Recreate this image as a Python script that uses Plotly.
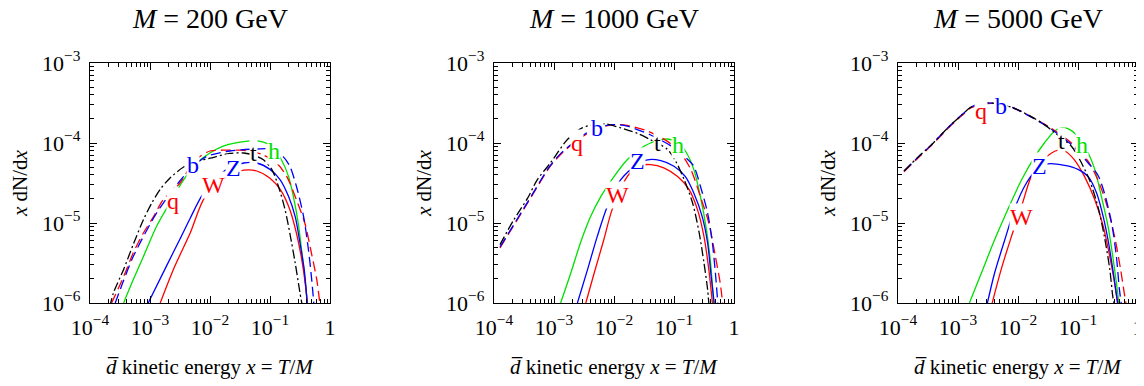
import plotly.graph_objects as go

PAGE_OFFSET = 8  # default page margin of the html body
W_FIG, H_FIG = 1144 - PAGE_OFFSET, 386 - PAGE_OFFSET
FONT = "Liberation Serif, Times New Roman, serif"

MASSES = ["200", "1000", "5000"]
SERIES = ["q", "b", "t", "h", "Z", "W"]
COLORS = {"q": "#ff0000", "b": "#0000ff", "t": "#000000",
          "W": "#ff0000", "Z": "#0000ff", "h": "#00e000"}
DASHES = {"q": "10px,5px", "b": "10px,5px", "t": "9px,3px,2px,3px",
          "W": "solid", "Z": "solid", "h": "solid"}

# ---- values (log10 x, log10 of x dN/dx) ----
# M = 200 GeV
M200_T_LOGX = [-3.67, -3.61, -3.44, -3.28, -3.11, -2.97, -2.83, -2.67, -2.44, -2.22, -2.0, -1.67, -1.44, -1.28, -1.11, -0.97, -0.86, -0.75, -0.67, -0.58, -0.5, -0.47]
M200_T_LOGY = [-6.05, -5.875, -5.58, -5.27, -4.96, -4.75, -4.58, -4.44, -4.30, -4.23, -4.19, -4.13, -4.125, -4.15, -4.21, -4.33, -4.54, -4.83, -5.125, -5.5, -5.875, -6.0]
M200_Q_LOGX = [-3.64, -3.44, -3.28, -3.11, -2.94, -2.78, -2.5, -2.33, -2.17, -2.0, -1.78, -1.5, -1.33, -1.11, -0.89, -0.72, -0.56, -0.42, -0.31, -0.22, -0.17]
M200_Q_LOGY = [-6.0, -5.67, -5.375, -5.125, -4.92, -4.71, -4.50, -4.30, -4.17, -4.10, -4.09, -4.09, -4.10, -4.15, -4.25, -4.42, -4.71, -5.0, -5.375, -5.71, -6.0]
M200_B_LOGX = [-3.58, -3.44, -3.28, -2.89, -2.53, -2.28, -2.06, -1.67, -1.22, -0.94, -0.78, -0.67, -0.56, -0.44, -0.36, -0.31, -0.27]
M200_B_LOGY = [-6.0, -5.72, -5.42, -4.875, -4.5, -4.29, -4.17, -4.10, -4.075, -4.08, -4.17, -4.29, -4.54, -4.92, -5.33, -5.67, -6.0]
M200_H_LOGX = [-3.44, -3.28, -3.11, -2.89, -2.67, -2.44, -2.22, -2.0, -1.78, -1.5, -1.28, -1.11, -0.97, -0.81, -0.69, -0.61, -0.53, -0.46, -0.40, -0.38]
M200_H_LOGY = [-6.0, -5.71, -5.42, -5.04, -4.75, -4.46, -4.25, -4.125, -4.04, -3.99, -3.97, -3.99, -4.04, -4.21, -4.42, -4.67, -5.0, -5.42, -5.83, -6.0]
M200_Z_LOGX = [-3.03, -2.72, -2.5, -2.33, -2.12, -1.89, -1.72, -1.44, -1.22, -1.0, -0.83, -0.69, -0.58, -0.5, -0.43, -0.38]
M200_Z_LOGY = [-6.0, -5.53, -5.2, -4.94, -4.64, -4.44, -4.33, -4.25, -4.25, -4.33, -4.46, -4.67, -4.92, -5.25, -5.58, -6.0]
M200_W_LOGX = [-2.83, -2.61, -2.33, -2.08, -1.67, -1.44, -1.22, -1.0, -0.83, -0.67, -0.56, -0.47, -0.40, -0.38]
M200_W_LOGY = [-6.0, -5.58, -5.125, -4.67, -4.40, -4.34, -4.35, -4.44, -4.58, -4.83, -5.125, -5.46, -5.83, -6.0]

# M = 1000 GeV
M1000_T_LOGX = [-3.9, -3.67, -3.44, -3.28, -3.06, -2.78, -2.53, -2.17, -1.89, -1.61, -1.39, -1.11, -0.97, -0.83, -0.69, -0.58, -0.5, -0.44, -0.42]
M1000_T_LOGY = [-5.27, -4.96, -4.69, -4.46, -4.25, -3.96, -3.81, -3.76, -3.81, -3.88, -3.96, -4.08, -4.23, -4.46, -4.75, -5.125, -5.5, -5.83, -6.0]
M1000_Q_LOGX = [-3.9, -3.44, -3.06, -2.83, -2.33, -2.0, -1.78, -1.44, -1.11, -0.89, -0.72, -0.56, -0.42, -0.31, -0.23, -0.19]
M1000_Q_LOGY = [-5.31, -4.75, -4.29, -4.10, -3.83, -3.77, -3.78, -3.85, -3.98, -4.125, -4.33, -4.67, -5.0, -5.42, -5.75, -6.0]
M1000_B_LOGX = [-3.9, -3.44, -3.06, -2.83, -2.33, -2.0, -1.78, -1.39, -1.0, -0.78, -0.67, -0.56, -0.44, -0.36, -0.31, -0.27]
M1000_B_LOGY = [-5.30, -4.74, -4.28, -4.09, -3.82, -3.77, -3.79, -3.90, -4.06, -4.2, -4.29, -4.54, -4.875, -5.25, -5.625, -6.0]
M1000_H_LOGX = [-2.89, -2.72, -2.56, -2.39, -2.22, -2.0, -1.78, -1.5, -1.28, -1.11, -0.94, -0.81, -0.67, -0.56, -0.46, -0.39, -0.34]
M1000_H_LOGY = [-6.0, -5.625, -5.25, -4.92, -4.67, -4.42, -4.21, -4.04, -3.97, -3.95, -3.99, -4.10, -4.33, -4.67, -5.08, -5.5, -6.0]
M1000_Z_LOGX = [-2.61, -2.44, -2.28, -2.11, -1.89, -1.61, -1.44, -1.22, -1.0, -0.81, -0.67, -0.53, -0.44, -0.38, -0.33]
M1000_Z_LOGY = [-6.0, -5.58, -5.17, -4.79, -4.46, -4.27, -4.21, -4.22, -4.29, -4.42, -4.625, -4.92, -5.25, -5.67, -6.0]
M1000_W_LOGX = [-2.47, -2.33, -2.17, -2.03, -1.78, -1.61, -1.39, -1.17, -0.94, -0.75, -0.61, -0.5, -0.42, -0.36]
M1000_W_LOGY = [-6.0, -5.625, -5.21, -4.83, -4.42, -4.29, -4.27, -4.31, -4.42, -4.58, -4.83, -5.17, -5.58, -6.0]

# M = 5000 GeV
M5000_T_LOGX = [-3.9, -3.67, -3.44, -3.17, -2.94, -2.78, -2.56, -2.33, -2.08, -1.78, -1.56, -1.39, -1.11, -0.97, -0.81, -0.67, -0.56, -0.47, -0.42, -0.40]
M5000_T_LOGY = [-4.35, -4.18, -4.02, -3.81, -3.65, -3.55, -3.50, -3.51, -3.56, -3.67, -3.77, -3.87, -4.04, -4.21, -4.46, -4.79, -5.17, -5.58, -5.92, -6.0]
M5000_Q_LOGX = [-3.9, -3.67, -3.44, -3.17, -2.94, -2.78, -2.56, -2.33, -2.08, -1.89, -1.5, -1.11, -0.83, -0.67, -0.53, -0.39, -0.29, -0.22, -0.19]
M5000_Q_LOGY = [-4.36, -4.19, -4.03, -3.82, -3.66, -3.56, -3.51, -3.51, -3.56, -3.63, -3.79, -4.0, -4.23, -4.46, -4.75, -5.17, -5.58, -5.92, -6.05]
M5000_B_LOGX = [-3.9, -3.67, -3.44, -3.17, -2.94, -2.78, -2.56, -2.33, -2.08, -1.89, -1.5, -1.11, -0.83, -0.67, -0.56, -0.44, -0.36, -0.31, -0.28]
M5000_B_LOGY = [-4.35, -4.18, -4.02, -3.81, -3.65, -3.55, -3.50, -3.51, -3.56, -3.63, -3.80, -4.02, -4.25, -4.40, -4.625, -5.0, -5.42, -5.83, -6.0]
M5000_H_LOGX = [-2.81, -2.61, -2.39, -2.17, -1.94, -1.72, -1.56, -1.39, -1.28, -1.17, -1.0, -0.83, -0.72, -0.61, -0.5, -0.42, -0.36, -0.32]
M5000_H_LOGY = [-6.0, -5.625, -5.21, -4.83, -4.46, -4.17, -4.0, -3.85, -3.81, -3.82, -3.92, -4.125, -4.33, -4.67, -5.04, -5.42, -5.75, -6.0]
M5000_Z_LOGX = [-2.51, -2.39, -2.22, -2.06, -1.89, -1.72, -1.5, -1.22, -1.0, -0.83, -0.69, -0.58, -0.49, -0.42, -0.34]
M5000_Z_LOGY = [-6.0, -5.625, -5.21, -4.83, -4.54, -4.36, -4.26, -4.28, -4.33, -4.42, -4.625, -4.92, -5.25, -5.58, -6.0]
M5000_W_LOGX = [-2.43, -2.28, -2.11, -1.94, -1.78, -1.61, -1.44, -1.33, -1.22, -1.06, -0.89, -0.72, -0.58, -0.47, -0.39, -0.34]
M5000_W_LOGY = [-6.0, -5.58, -5.17, -4.79, -4.42, -4.23, -4.125, -4.09, -4.10, -4.21, -4.42, -4.71, -5.04, -5.42, -5.75, -6.0]

# label positions (log10 x, log10 y)
LABELS_M200 = {"q": (-2.61, -4.73), "b": (-2.28, -4.27), "t": (-1.28, -4.13), "h": (-0.94, -4.10), "Z": (-1.61, -4.31), "W": (-1.94, -4.52)}
LABELS_M1000 = {"q": (-2.61, -4.0), "b": (-2.28, -3.81), "t": (-1.28, -4.0), "h": (-0.94, -4.02), "Z": (-1.61, -4.23), "W": (-1.94, -4.65)}
LABELS_M5000 = {"q": (-2.61, -3.60), "b": (-2.28, -3.54), "t": (-1.28, -3.98), "h": (-0.94, -4.02), "Z": (-1.64, -4.29), "W": (-1.94, -4.92)}

X_TICKS = [1e-4, 1e-3, 1e-2, 1e-1, 1]
X_TICK_TEXT = ["10<sup>\u22124</sup>", "10<sup>\u22123</sup>", "10<sup>\u22122</sup>", "10<sup>\u22121</sup>", "1"]
Y_TICKS = [1e-6, 1e-5, 1e-4, 1e-3]
Y_TICK_TEXT = ["10<sup>\u22126</sup>", "10<sup>\u22125</sup>", "10<sup>\u22124</sup>", "10<sup>\u22123</sup>"]
X_MINOR = [k * 10.0 ** e for e in (-4, -3, -2, -1) for k in range(2, 10)]
Y_MINOR = [k * 10.0 ** e for e in (-6, -5, -4) for k in range(2, 10)]

DATA = {
    "200": {"t": (M200_T_LOGX, M200_T_LOGY), "q": (M200_Q_LOGX, M200_Q_LOGY), "b": (M200_B_LOGX, M200_B_LOGY),
            "h": (M200_H_LOGX, M200_H_LOGY), "Z": (M200_Z_LOGX, M200_Z_LOGY), "W": (M200_W_LOGX, M200_W_LOGY)},
    "1000": {"t": (M1000_T_LOGX, M1000_T_LOGY), "q": (M1000_Q_LOGX, M1000_Q_LOGY), "b": (M1000_B_LOGX, M1000_B_LOGY),
             "h": (M1000_H_LOGX, M1000_H_LOGY), "Z": (M1000_Z_LOGX, M1000_Z_LOGY), "W": (M1000_W_LOGX, M1000_W_LOGY)},
    "5000": {"t": (M5000_T_LOGX, M5000_T_LOGY), "q": (M5000_Q_LOGX, M5000_Q_LOGY), "b": (M5000_B_LOGX, M5000_B_LOGY),
             "h": (M5000_H_LOGX, M5000_H_LOGY), "Z": (M5000_Z_LOGX, M5000_Z_LOGY), "W": (M5000_W_LOGX, M5000_W_LOGY)},
}
LABELS = {"200": LABELS_M200, "1000": LABELS_M1000, "5000": LABELS_M5000}

# positions in screenshot pixels
PANEL_LEFT_PX = [90, 494, 898]
PANEL_W_PX = 240
PANEL_TOP_PX, PANEL_BOTTOM_PX = 63, 303


def fx(px):
    return (px - PAGE_OFFSET) / W_FIG


def fy(py):
    return 1 - (py - PAGE_OFFSET) / H_FIG


fig = go.Figure()
annotations = []

for i, m in enumerate(MASSES):
    sfx = "" if i == 0 else str(i + 1)
    xa, ya = "x" + sfx, "y" + sfx
    for s in ["h", "W", "Z", "q", "b", "t"]:
        lx, ly = DATA[m][s]
        fig.add_trace(go.Scatter(
            x=[10 ** v for v in lx], y=[10 ** v for v in ly], mode="lines",
            line=dict(color=COLORS[s], width=1.3, dash=DASHES[s], shape="spline", smoothing=0.8),
            xaxis=xa, yaxis=ya, showlegend=False, hoverinfo="skip"))
    for s, (px, py) in LABELS[m].items():
        annotations.append(dict(
            x=px, y=py, xref=xa, yref=ya, text=s, showarrow=False,
            font=dict(family=FONT, size=24, color=COLORS[s]),
            bgcolor="white", borderpad=0, xanchor="center", yanchor="middle"))

    L = PANEL_LEFT_PX[i]
    xdom = [fx(L), fx(L + PANEL_W_PX)]
    ydom = [fy(PANEL_BOTTOM_PX), fy(PANEL_TOP_PX)]
    common = dict(type="log", showline=True, linecolor="black", linewidth=1.2, mirror="allticks",
                  ticks="inside", ticklen=7, tickwidth=1, tickcolor="black",
                  showgrid=False, zeroline=False, automargin=False,
                  tickfont=dict(family=FONT, size=22, color="black"))
    fig.update_layout(**{
        "xaxis" + sfx: dict(common, domain=xdom, range=[-4, 0], tickmode="array",
                            tickvals=X_TICKS, ticktext=X_TICK_TEXT,
                            minor=dict(tickmode="array", tickvals=X_MINOR, ticks="inside", ticklen=4,
                                       tickwidth=1, tickcolor="black", showgrid=False),
                            anchor=ya, ticklabelstandoff=4),
        "yaxis" + sfx: dict(common, domain=ydom, range=[-6, -3], tickmode="array",
                            tickvals=Y_TICKS, ticktext=Y_TICK_TEXT,
                            minor=dict(tickmode="array", tickvals=Y_MINOR, ticks="inside", ticklen=4,
                                       tickwidth=1, tickcolor="black", showgrid=False),
                            anchor=xa, ticklabelstandoff=4),
    })
    cx = fx(L + PANEL_W_PX / 2)
    annotations.append(dict(x=cx, y=fy(18), xref="paper", yref="paper",
                            text="<i>M</i> = " + m + " GeV", showarrow=False,
                            font=dict(family=FONT, size=28, color="black"),
                            xanchor="center", yanchor="middle"))
    annotations.append(dict(x=cx, y=fy(367), xref="paper", yref="paper",
                            text="<i>d\u0305</i> kinetic energy <i>x</i> = <i>T</i>/<i>M</i>",
                            showarrow=False, font=dict(family=FONT, size=21, color="black"),
                            xanchor="center", yanchor="middle"))
    annotations.append(dict(x=fx(L - 70), y=fy(183), xref="paper", yref="paper",
                            text="<i>x</i> dN/d<i>x</i>", textangle=-90,
                            showarrow=False, font=dict(family=FONT, size=21, color="black"),
                            xanchor="center", yanchor="middle"))

fig.update_layout(width=W_FIG, height=H_FIG, margin=dict(l=0, r=0, t=0, b=0),
                  paper_bgcolor="white", plot_bgcolor="white", showlegend=False,
                  annotations=annotations)

fig.write_html("out.html")
